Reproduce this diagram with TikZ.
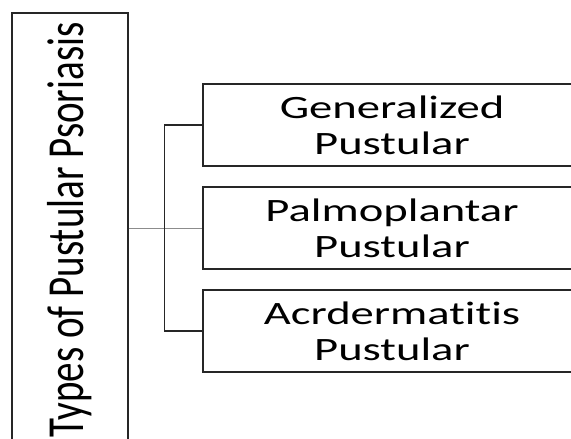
\documentclass[tikz,border=0pt]{standalone}
\usepackage{fontspec}
\newfontfamily\boxfont[FakeStretch=1.43, Ligatures=NoCommon]{Carlito}
\newfontfamily\titlefont[FakeStretch=0.75, Ligatures=NoCommon]{Carlito}
\usetikzlibrary{shapes.geometric, arrows}
\tikzstyle{types} = [rectangle, rotate=90, minimum width=434pt, minimum height=116pt, text centered, draw=black!85, line width=1.2pt, font=\titlefont\fontsize{52}{60}\selectfont]
\tikzstyle{kind} = [rectangle, minimum width=378pt, minimum height=82pt, align=center, draw=black!85, line width=1.3pt, font=\boxfont\fontsize{32.6}{36}\selectfont]
\tikzstyle{link} = [draw=black!85, line width=1.2pt]
\tikzstyle{stem} = [draw=black!45, line width=0.8pt]

\begin{document}
\begin{tikzpicture}[node distance=103pt]
        \useasboundingbox (0,0) rectangle (571pt,439pt);
        \clip (0,0) rectangle (571pt,439pt);
        \node (types) [types] at (70pt,209pt) {Types of Pustular Psoriasis};
        \node (palmo) [kind] at (392pt,211pt) {Palmoplantar\\Pustular};
        \node (gener) [kind, above of=palmo] {Generalized\\Pustular};
        \node (acro) [kind, below of=palmo] {Acrdermatitis\\Pustular};

        \draw [stem] (types.south |- palmo) -- (palmo.west);
        \draw [link] (gener.west) -- ++(-38pt,0) |- (acro.west);
    \end{tikzpicture}
\end{document}
